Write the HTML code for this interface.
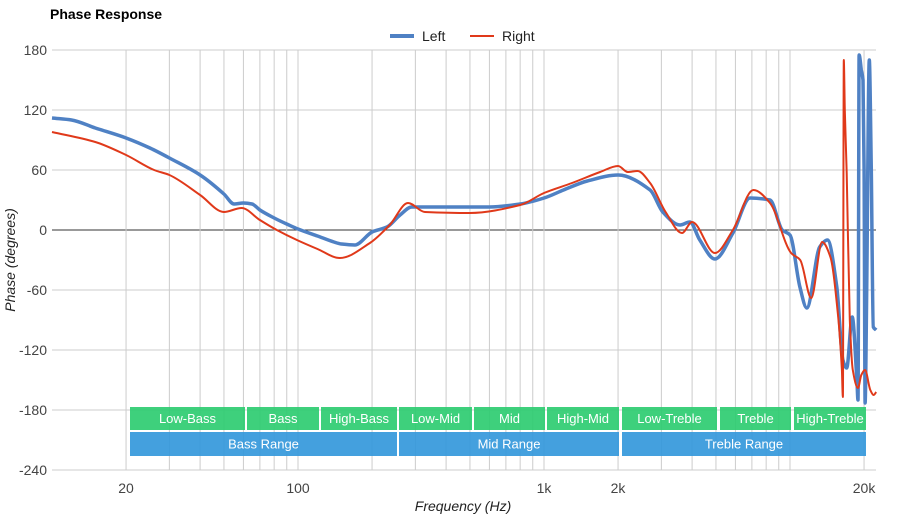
<!DOCTYPE html>
<html><head><meta charset="utf-8"><style>
body{margin:0;background:#fff;font-family:"Liberation Sans",Arial,sans-serif}
svg text{font-family:"Liberation Sans",Arial,sans-serif}
</style></head><body>
<svg id="chart" width="900" height="520" viewBox="0 0 900 520" xmlns="http://www.w3.org/2000/svg">
<rect width="900" height="520" fill="#fff"/>
<text x="50" y="19" font-size="14" font-weight="bold" fill="#000">Phase Response</text>
<g>
<g><line x1="390" y1="36" x2="414" y2="36" stroke="#4f81c4" stroke-width="4"/><text x="422" y="41" font-size="14" fill="#222">Left</text></g>
<g><line x1="470" y1="36" x2="494" y2="36" stroke="#e0391a" stroke-width="2"/><text x="502" y="41" font-size="14" fill="#222">Right</text></g>
</g>
<g id="grid"></g>
<g id="bands"></g>
<g id="series"></g>
<g id="axes"></g>
<text x="463" y="511" font-size="14" font-style="italic" text-anchor="middle" fill="#222">Frequency (Hz)</text>
<text transform="translate(15,260) rotate(-90)" font-size="14" font-style="italic" text-anchor="middle" fill="#222">Phase (degrees)</text>
</svg>
<script>
const yTicks=[180,120,60,0,-60,-120,-180,-240];
const gridFreqs=[20,30,40,50,60,70,80,90,100,200,300,400,500,600,700,800,900,1000,2000,3000,4000,5000,6000,7000,8000,9000,10000,20000];
const xTickVals=[20,100,1000,2000,20000];
const xTickLabels=["20","100","1k","2k","20k"];
const leftFreq=[10,12,15,20,25,30,40,50,55,60,65,70,80,90,100,120,140,150,170,200,230,260,290,350,500,600,800,1000,1200,1500,2000,2700,3040,3570,3920,4300,4950,5860,6880,8290,9300,10000,10970,11700,13200,14200,15500,16400,17000,17900,18700,18900,19100,19500,19800,20000,20200,20500,21000,21400,21800,22400];
const leftVal=[112,110,102,92,82,72,55,36,26,27,26,20,12,6,1,-6,-12,-14,-15,-2,3,15,23,23,23,23,26,32,40,49,55,40,18,5,8,-10,-29,-3,32,30,0,-5,-57,-78,-17,-10,-57,-130,-138,-87,-150,-170,175,160,150,60,-173,-60,170,60,-97,-100];
const rightFreq=[10,15,20,26,30,40,50,59,70,82,99,120,148,196,236,280,328,500,800,1000,1300,1690,2000,2190,2400,2700,3120,3640,4000,4950,5860,7100,8290,10100,11000,12200,13500,14600,15700,16250,16400,16550,16700,17000,17500,18000,18900,19500,20200,21200,21900,22400];
const rightVal=[98,88,75,60,55,35,18,22,10,0,-10,-19,-28,-13,5,27,18,17,25,37,47,58,64,58,59,47,18,-3,8,-23,0,40,27,-23,-30,-68,-12,-27,-87,-140,-167,170,120,57,-90,-140,-158,-145,-140,-160,-165,-162];
const bandsTop=[["Low-Bass",130,245],["Bass",247,319],["High-Bass",321,397],["Low-Mid",399,472],["Mid",474,545],["High-Mid",547,619],["Low-Treble",622,717],["Treble",720,791],["High-Treble",794,866]];
const bandsBot=[["Bass Range",130,397],["Mid Range",399,619],["Treble Range",622,866]];
const NS="http://www.w3.org/2000/svg";
const X0=52,X1=876,Y0=50,Y1=470;
function xs(f){return 544+246*Math.log10(f/1000);}
function ys(v){return 230-v;}
function mk(t,a,p){const e=document.createElementNS(NS,t);for(const k in a)e.setAttribute(k,a[k]);p.appendChild(e);return e;}
const grid=document.getElementById('grid'),axes=document.getElementById('axes'),bands=document.getElementById('bands'),series=document.getElementById('series');
yTicks.forEach(v=>{
 const l=mk('line',{x1:X0,x2:X1,y1:ys(v),y2:ys(v),stroke:v===0?'#333':'#ccc','stroke-width':1},grid);
 
 
 const t=mk('text',{x:47,y:ys(v)+5,'font-size':14,'text-anchor':'end',fill:'#444'},axes);
 t.textContent=v;
 
 
});
gridFreqs.forEach(f=>{
 const l=mk('line',{x1:xs(f),x2:xs(f),y1:Y0,y2:Y1,stroke:'#ccc','stroke-width':1},grid);
 
 
});
xTickVals.forEach((f,i)=>{
 const t=mk('text',{x:xs(f),y:493,'font-size':14,'text-anchor':'middle',fill:'#444'},axes);
 t.textContent=xTickLabels[i];
 
 
});
function band(b,y,h,col){
 const g=mk('g',{},bands);
 
 
 mk('rect',{x:b[1],y:y,width:b[2]-b[1],height:h,fill:col,'fill-opacity':0.92},g);
 const t=mk('text',{x:(b[1]+b[2])/2,y:y+h/2+4.5,'font-size':13,'text-anchor':'middle',fill:'#fff'},g);
 t.textContent=b[0];
}
bandsTop.forEach(b=>band(b,407,23,'#2ecc71'));
bandsBot.forEach(b=>band(b,432,24,'#3498db'));
function path(fr,vals,col,w,name){
 const px=fr.map(xs),py=vals.map(ys),n=px.length;
 const dl=[],m=[];
 for(let i=0;i<n-1;i++)dl.push((py[i+1]-py[i])/(px[i+1]-px[i]));
 for(let i=0;i<n;i++){
  if(i===0)m.push(dl[0]);else if(i===n-1)m.push(dl[n-2]);
  else m.push(dl[i-1]*dl[i]<=0?0:2/(1/dl[i-1]+1/dl[i]));
 }
 let d='M'+px[0].toFixed(1)+','+py[0].toFixed(1);
 for(let i=0;i<n-1;i++){
  const h=(px[i+1]-px[i])/3;
  d+='C'+(px[i]+h).toFixed(1)+','+(py[i]+m[i]*h).toFixed(1)+' '+(px[i+1]-h).toFixed(1)+','+(py[i+1]-m[i+1]*h).toFixed(1)+' '+px[i+1].toFixed(1)+','+py[i+1].toFixed(1);
 }
 const p=mk('path',{d:d,fill:'none',stroke:col,'stroke-width':w,'stroke-linejoin':'round'},series);
 
 
}
path(leftFreq,leftVal,'#4f81c4',3.5,'left-series-line');
path(rightFreq,rightVal,'#e0391a',2,'right-series-line');
</script>
</body></html>
